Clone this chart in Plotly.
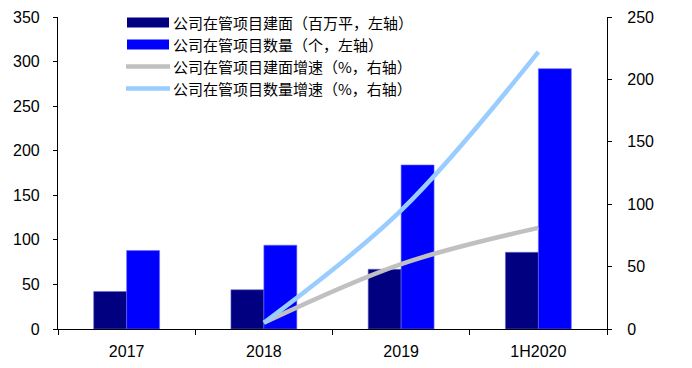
import plotly.graph_objects as go

# Category labels and series values
periods = ["2017", "2018", "2019", "1H2020"]
area_mn_sqm = [42, 44, 67, 86]          # 公司在管项目建面（百万平）
project_count = [88, 94, 184, 292]      # 公司在管项目数量（个）
area_growth = [None, 5, 52, 81]         # 建面增速（%）
count_growth = [None, 5, 95, 222]       # 数量增速（%）

legend_names = [
    "公司在管项目建面（百万平，左轴）",
    "公司在管项目数量（个，左轴）",
    "公司在管项目建面增速（%，右轴）",
    "公司在管项目数量增速（%，右轴）",
]

NAVY = "#000080"
BLUE = "#0000FF"
GRAY = "#C0C0C0"
LIGHT = "#99CCFF"
CJK = "Noto Sans CJK SC"
LATIN = "Liberation Sans, Arial, sans-serif"

fig = go.Figure()
fig.add_trace(go.Bar(x=periods, y=area_mn_sqm, name=legend_names[0],
                     marker=dict(color=NAVY, line=dict(color="#6666cc", width=0.6))))
fig.add_trace(go.Bar(x=periods, y=project_count, name=legend_names[1],
                     marker=dict(color=BLUE, line=dict(color="#6666ff", width=0.6))))
fig.add_trace(go.Scatter(x=periods, y=area_growth, name=legend_names[2], yaxis="y2",
                         mode="lines", line=dict(color=GRAY, width=4.5, shape="spline")))
fig.add_trace(go.Scatter(x=periods, y=count_growth, name=legend_names[3], yaxis="y2",
                         mode="lines", line=dict(color=LIGHT, width=4.5, shape="spline")))

# Plot area in page pixels
H = 368
L, R = 58, 607
T, B = 17, 329.5
W = R - L


def px_x(x):
    return (x - L) / W


def px_y(y):
    return (B - y) / (B - T)


# Hand-drawn legend: wide swatches with text to the right
shapes = []
annotations = []
rows_y = [22.5, 44.5, 66.5, 88.5]
for i, (name, y) in enumerate(zip(legend_names, rows_y)):
    if i < 2:
        col = NAVY if i == 0 else BLUE
        shapes.append(dict(type="rect", xref="paper", yref="paper",
                           x0=px_x(127), x1=px_x(169), y0=px_y(y + 5), y1=px_y(y - 5),
                           fillcolor=col, line=dict(width=0), layer="above"))
    else:
        col = GRAY if i == 2 else LIGHT
        shapes.append(dict(type="line", xref="paper", yref="paper",
                           x0=px_x(126), x1=px_x(170), y0=px_y(y), y1=px_y(y),
                           line=dict(color=col, width=4.5), layer="above"))
    annotations.append(dict(text=name, xref="paper", yref="paper",
                            x=px_x(171), y=px_y(y),
                            xanchor="left", yanchor="middle", showarrow=False,
                            font=dict(family=CJK, size=15, color="#000000")))

fig.update_layout(
    width=692, height=368,
    margin=dict(l=L, r=692 - R, t=T, b=H - B),
    paper_bgcolor="white", plot_bgcolor="white",
    barmode="group", bargap=0.52, bargroupgap=0,
    showlegend=False,
    font=dict(family=LATIN, size=16, color="#000000"),
    shapes=shapes, annotations=annotations,
    xaxis=dict(type="category", showline=True, linecolor="#000000", linewidth=1.2,
               ticks="outside", ticklen=5, tickcolor="#000000", tickson="boundaries",
               ticklabelstandoff=8, automargin=False,
               showgrid=False, tickfont=dict(family=LATIN, size=16)),
    yaxis=dict(range=[0, 350], dtick=50, showline=True, linecolor="#000000",
               linewidth=1.2, ticks="outside", ticklen=4, tickcolor="#000000",
               ticklabelstandoff=10, automargin=False,
               showgrid=False, zeroline=False, tickfont=dict(family=LATIN, size=16)),
    yaxis2=dict(range=[0, 250], dtick=50, overlaying="y", side="right",
                showline=True, linecolor="#000000", linewidth=1.2, ticks="outside",
                ticklen=4, tickcolor="#000000", ticklabelstandoff=12, automargin=False,
                showgrid=False, zeroline=False,
                tickfont=dict(family=LATIN, size=16)),
)

fig.write_html("out.html")
